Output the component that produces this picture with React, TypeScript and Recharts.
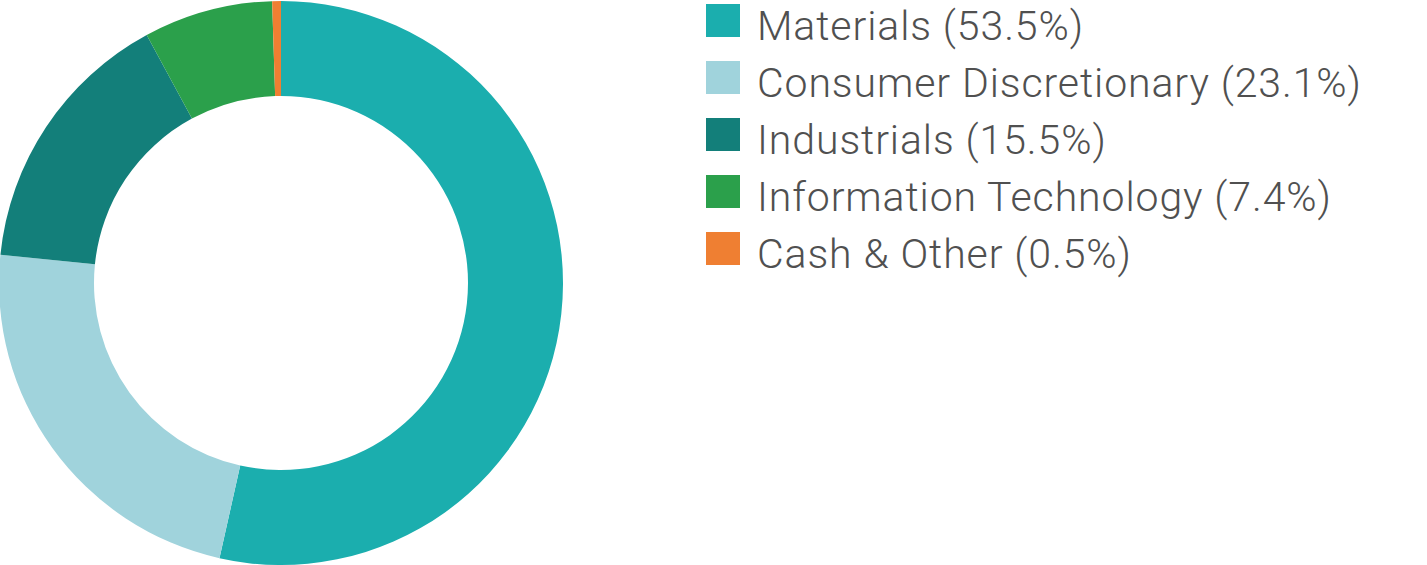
import React from 'react';
import { PieChart, Pie, Cell } from 'recharts';

const sectors = ['Materials', 'Consumer Discretionary', 'Industrials', 'Information Technology', 'Cash & Other'];
const weights = [53.5, 23.1, 15.5, 7.4, 0.5];
const colors = ['#1BAEAE', '#A0D3DC', '#137F7A', '#2BA04B', '#EF7F32'];

const data = sectors.map((name, i) => ({ name, value: weights[i] }));

const ROW = 57;

const SectorLegend = () => (
  <div style={{ position: 'absolute', left: 706, top: 0, width: 700, fontFamily: 'Roboto, sans-serif' }}>
    {data.map((d, i) => (
      <React.Fragment key={d.name}>
        <div
          style={{
            position: 'absolute',
            left: 0,
            top: 4 + ROW * i,
            width: 34,
            height: 33,
            background: colors[i],
          }}
        />
        <div
          style={{
            position: 'absolute',
            left: 51,
            top: -2.5 + ROW * i,
            whiteSpace: 'nowrap',
            fontSize: 41,
            fontWeight: 300,
            lineHeight: `${ROW}px`,
            color: '#505050',
            letterSpacing: 0.9,
          }}
        >
          {d.name} ({d.value.toFixed(1)}%)
        </div>
      </React.Fragment>
    ))}
  </div>
);

const App: React.FC = () => {
  return (
    <div style={{ position: 'absolute', left: 0, top: 0, width: 1427, height: 565 }}>
      <PieChart width={1427} height={565} margin={{ top: 0, right: 0, bottom: 0, left: 0 }}>
        <Pie
          data={data}
          dataKey="value"
          nameKey="name"
          cx={281}
          cy={283}
          innerRadius={187}
          outerRadius={282}
          startAngle={90}
          endAngle={-270}
          stroke="none"
          isAnimationActive={false}
        >
          {data.map((d, i) => (
            <Cell key={d.name} fill={colors[i]} />
          ))}
        </Pie>
      </PieChart>
      <SectorLegend />
    </div>
  );
};

export default App;
